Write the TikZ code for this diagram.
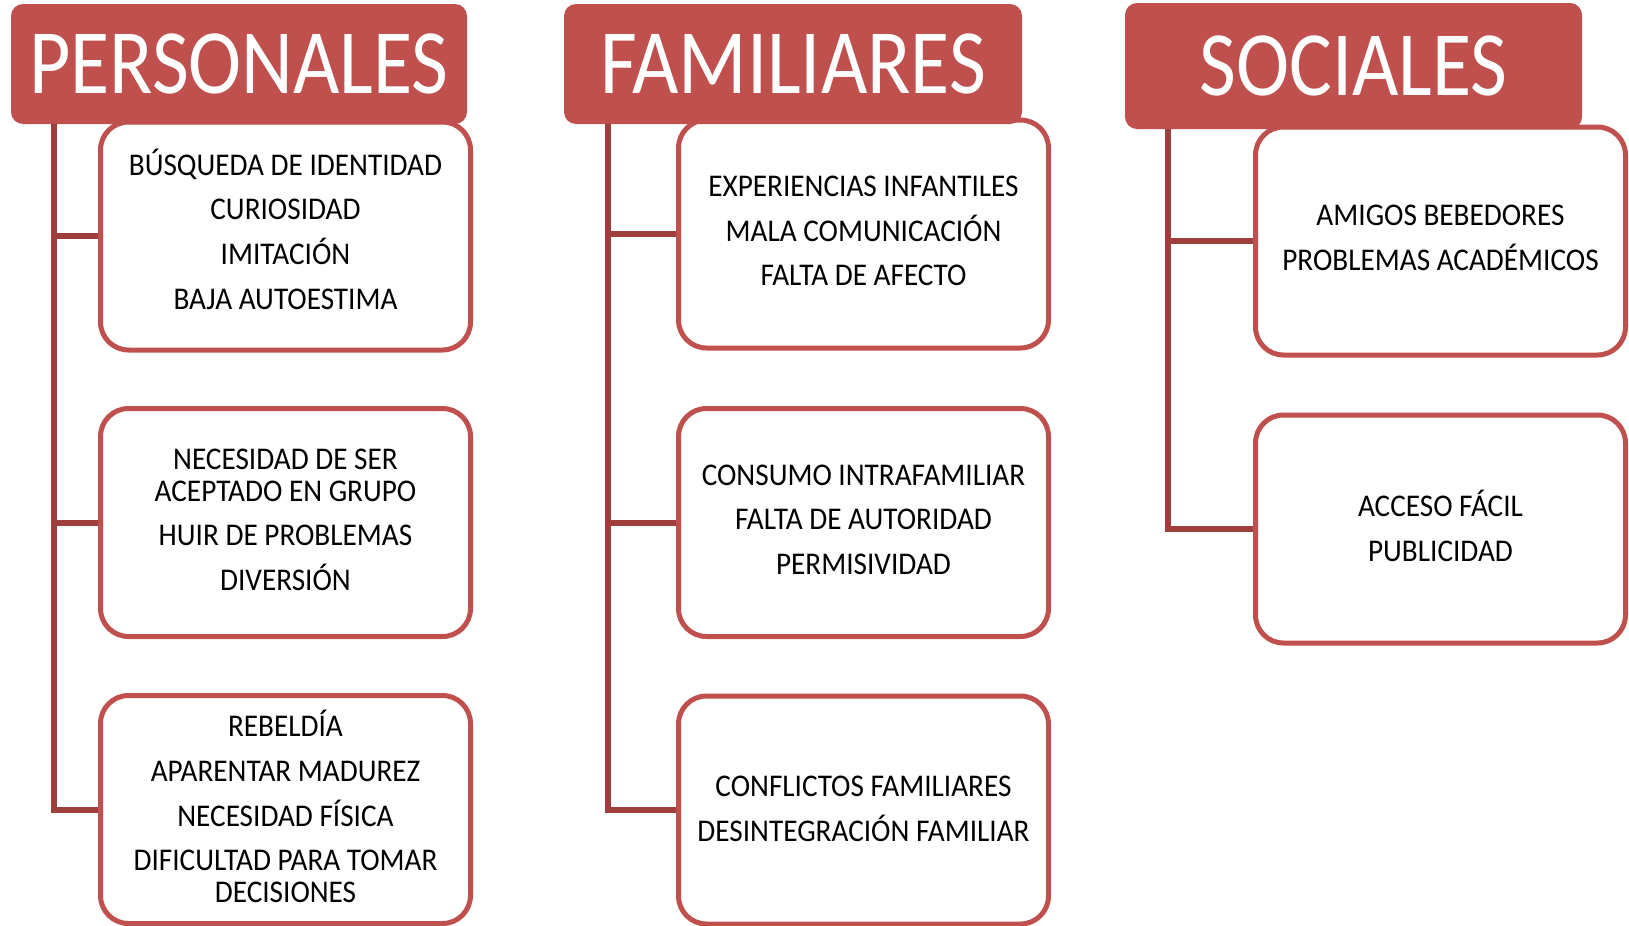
\documentclass[tikz,border=0pt]{standalone}
\usepackage{fontspec}
\setmainfont{Carlito}
\newfontfamily\cabfont[FakeStretch=0.87]{Carlito}
\newfontfamily\cajafont[FakeStretch=0.925]{Carlito}
\usepackage{tikz}
\usetikzlibrary{calc}

\definecolor{rojo}{HTML}{C0504D}
\definecolor{rojooscuro}{HTML}{9E3F3D}

\tikzset{
	cabecera/.style={fill=rojo, rounded corners=6pt, text=white, inner sep=0pt,
		minimum width=#1*0.5pt, font=\cabfont\fontsize{46}{46}\selectfont},
	caja/.style={draw=rojo, line width=2.5pt, rounded corners=14pt, fill=white,
		minimum width=185pt, minimum height=114pt, inner sep=0pt, align=center,
		text depth=3pt, font=\cajafont\fontsize{15.8}{16}\selectfont},
	rama/.style={draw=rojooscuro, line width=3pt}
}
\def\sep{\\[6.3pt]}

\begin{document}
\begin{tikzpicture}[x=0.5pt, y=-0.5pt]
		%%%%% START %%%%%
		\useasboundingbox (0, 0) rectangle (1629, 926);
		
		% PERSONALES
		\node[caja, text depth=7pt] (p1) at (285.5, 236) {B\'USQUEDA DE IDENTIDAD\sep CURIOSIDAD\sep IMITACI\'ON\sep BAJA AUTOESTIMA};
		\node[caja] (p2) at (285.5, 522.5) {NECESIDAD DE SER\\ACEPTADO EN GRUPO\sep HUIR DE PROBLEMAS\sep DIVERSI\'ON};
		\node[caja] (p3) at (285.5, 809.5) {REBELD\'IA\sep APARENTAR MADUREZ\sep NECESIDAD F\'ISICA\sep DIFICULTAD PARA TOMAR\\DECISIONES};
		\node[cabecera=456, minimum height=60pt] (phead) at (239, 64) {PERSONALES};
		
		% FAMILIARES
		\node[caja] (f1) at (863.5, 234) {EXPERIENCIAS INFANTILES\sep MALA COMUNICACI\'ON\sep FALTA DE AFECTO};
		\node[caja] (f2) at (863.5, 522.5) {CONSUMO INTRAFAMILIAR\sep FALTA DE AUTORIDAD\sep PERMISIVIDAD};
		\node[caja, text depth=1pt] (f3) at (863.5, 810) {CONFLICTOS FAMILIARES\sep DESINTEGRACI\'ON FAMILIAR};
		\node[cabecera=458, minimum height=60pt] (fhead) at (793, 64) {FAMILIARES};
		
		% SOCIALES
		\node[caja] (s1) at (1440.5, 241) {AMIGOS BEBEDORES\sep PROBLEMAS ACAD\'EMICOS};
		\node[caja] (s2) at (1440.5, 529) {ACCESO F\'ACIL\sep PUBLICIDAD};
		\node[cabecera=457, minimum height=63pt] (shead) at (1353.5, 66) {SOCIALES};
		
		% ramas
		\coordinate (ptop) at (54, 124);
		\coordinate (ftop) at (608, 124);
		\coordinate (stop) at (1168, 129);
		
		\draw[rama] (ptop) |- (p3.west);
		\draw[rama] (ptop |- p1.west) -- (p1.west);
		\draw[rama] (ptop |- p2.west) -- (p2.west);
		
		\draw[rama] (ftop) |- (f3.west);
		\draw[rama] (ftop |- f1.west) -- (f1.west);
		\draw[rama] (ftop |- f2.west) -- (f2.west);
		
		\draw[rama] (stop) |- (s2.west);
		\draw[rama] (stop |- s1.west) -- (s1.west);
		
		%%%%% END %%%%%
\end{tikzpicture}
\end{document}
